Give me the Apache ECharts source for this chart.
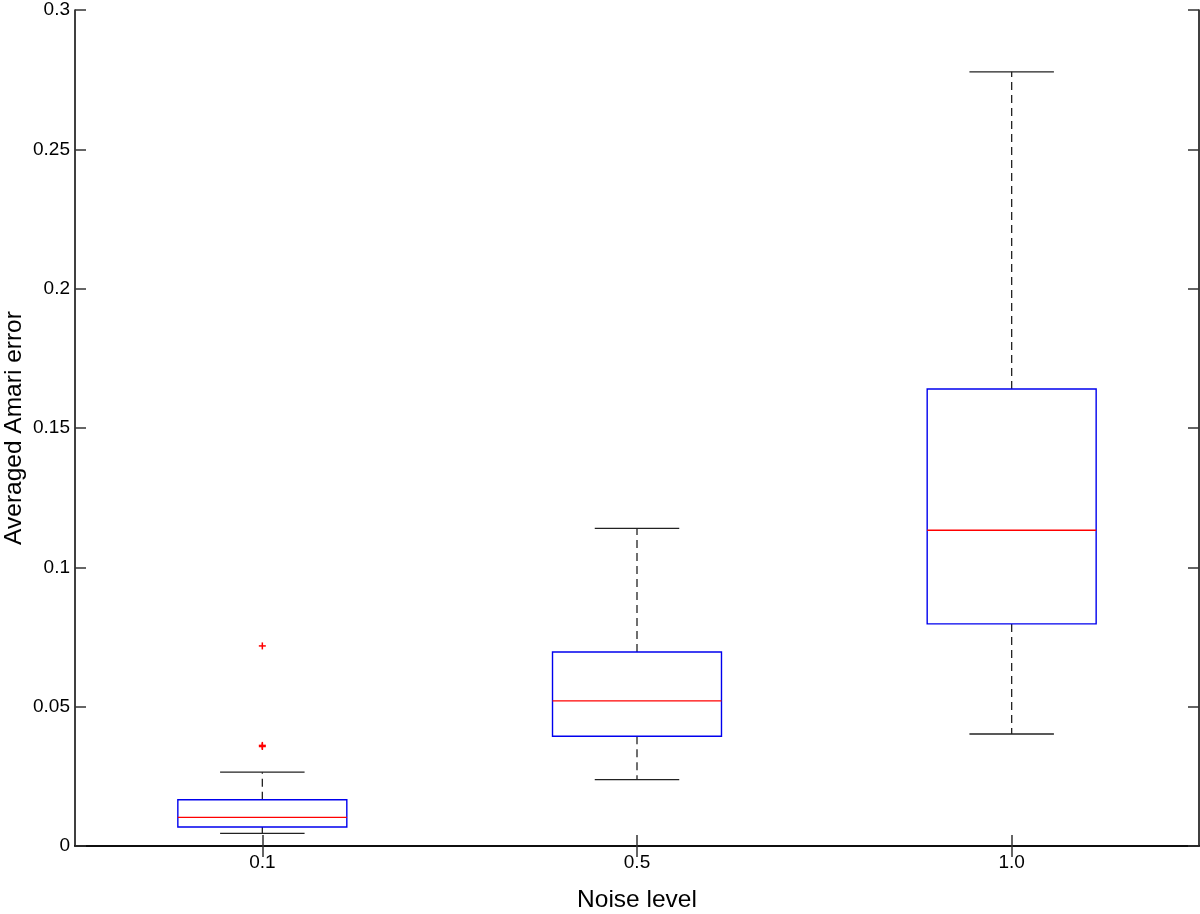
<!DOCTYPE html>
<html>
<head>
<meta charset="utf-8">
<script src="https://cdn.jsdelivr.net/npm/echarts@6/dist/echarts.min.js"></script>
<style>html,body{margin:0;padding:0;background:#fff;}#c{width:1200px;height:914px;}</style>
</head>
<body>
<div id="c"></div>
<script>
const categories = ['0.1', '0.5', '1.0'];
const lowerWhisker = [0.0045, 0.0238, 0.0402];
const q1 = [0.0068, 0.0394, 0.0797];
const median = [0.0103, 0.0521, 0.1133];
const q3 = [0.0166, 0.0696, 0.1640];
const upperWhisker = [0.0265, 0.1140, 0.2778];
const outliers = [[0, 0.0718], [0, 0.0357], [0, 0.0361]];
const yTicks = [0, 0.05, 0.1, 0.15, 0.2, 0.25, 0.3];

const boxData = categories.map((c, i) => [i, lowerWhisker[i], q1[i], median[i], q3[i], upperWhisker[i]]);

const FONT = 'Liberation Sans, Arial, Helvetica, sans-serif';

function renderBox(params, api) {
  const i = api.value(0);
  const band = api.size([1, 0])[0];
  const boxW = band * 0.451;
  const capW = boxW / 2;
  const pLo = api.coord([i, api.value(1)]);
  const pQ1 = api.coord([i, api.value(2)]);
  const pMed = api.coord([i, api.value(3)]);
  const pQ3 = api.coord([i, api.value(4)]);
  const pHi = api.coord([i, api.value(5)]);
  const cx = pMed[0];
  const black = {stroke: '#222', lineWidth: 1.3};
  return {
    type: 'group',
    children: [
      {type: 'line', shape: {x1: cx, y1: pQ3[1], x2: cx, y2: pHi[1]}, style: {stroke: '#222', lineWidth: 1.3, lineDash: [8, 5]}},
      {type: 'line', shape: {x1: cx, y1: pQ1[1], x2: cx, y2: pLo[1]}, style: {stroke: '#222', lineWidth: 1.3, lineDash: [8, 5]}},
      {type: 'line', shape: {x1: cx - capW / 2, y1: pHi[1], x2: cx + capW / 2, y2: pHi[1]}, style: black},
      {type: 'line', shape: {x1: cx - capW / 2, y1: pLo[1], x2: cx + capW / 2, y2: pLo[1]}, style: black},
      {type: 'rect', shape: {x: cx - boxW / 2, y: pQ3[1], width: boxW, height: pQ1[1] - pQ3[1]}, style: {fill: 'none', stroke: '#0000ee', lineWidth: 1.4}},
      {type: 'line', shape: {x1: cx - boxW / 2, y1: pMed[1], x2: cx + boxW / 2, y2: pMed[1]}, style: {stroke: '#ff0000', lineWidth: 1.3}}
    ]
  };
}

function renderPlus(params, api) {
  const p = api.coord([api.value(0), api.value(1)]);
  const h = 3.5;
  const st = {stroke: '#ff0000', lineWidth: 1.5};
  return {
    type: 'group',
    children: [
      {type: 'line', shape: {x1: p[0] - h, y1: p[1], x2: p[0] + h, y2: p[1]}, style: st},
      {type: 'line', shape: {x1: p[0], y1: p[1] - h, x2: p[0], y2: p[1] + h}, style: st}
    ]
  };
}

const chart = echarts.init(document.getElementById('c'), null, {renderer: 'canvas'});
const axisLine = {show: true, lineStyle: {color: '#000', width: 1.5}};
const tick = {show: true, inside: true, length: 11, lineStyle: {color: '#333', width: 1.5}};
chart.setOption({
  animation: false,
  backgroundColor: '#fff',
  grid: {left: 75, right: 1, top: 10, bottom: 68, containLabel: false, outerBoundsMode: 'none'},
  xAxis: [
    {
      type: 'category', data: categories, position: 'bottom',
      axisLine: axisLine, axisTick: Object.assign({alignWithLabel: true}, tick),
      axisLabel: {color: '#000', fontSize: 19, fontFamily: FONT, margin: 7},
      name: 'Noise level', nameLocation: 'middle', nameGap: 42, nameMoveOverlap: false,
      nameTextStyle: {color: '#000', fontSize: 24.5, fontFamily: FONT},
      splitLine: {show: false}
    },
    {
      type: 'category', data: categories, position: 'top',
      axisLine: axisLine, axisTick: Object.assign({alignWithLabel: true}, tick),
      axisLabel: {show: false}, splitLine: {show: false}
    }
  ],
  yAxis: [
    {
      type: 'value', min: 0, max: 0.3, interval: 0.05, position: 'left',
      axisLine: axisLine, axisTick: tick,
      axisLabel: {color: '#000', fontSize: 19, fontFamily: FONT, margin: 5,
        formatter: v => { const t = yTicks.find(x => Math.abs(x - v) < 1e-9); return t === undefined ? '' : String(t); }},
      name: 'Averaged Amari error', nameLocation: 'middle', nameGap: 48, nameRotate: 90, nameMoveOverlap: false,
      nameTextStyle: {color: '#000', fontSize: 24.5, fontFamily: FONT},
      splitLine: {show: false}
    },
    {
      type: 'value', min: 0, max: 0.3, interval: 0.05, position: 'right',
      axisLine: axisLine, axisTick: tick,
      axisLabel: {show: false}, splitLine: {show: false}
    }
  ],
  series: [
    {type: 'custom', renderItem: renderBox, data: boxData, xAxisIndex: 0, yAxisIndex: 0, encode: {x: 0, y: [1, 2, 3, 4, 5]}, z: 5},
    {type: 'custom', renderItem: renderPlus, data: outliers, xAxisIndex: 0, yAxisIndex: 0, encode: {x: 0, y: 1}, z: 6}
  ]
});
</script>
</body>
</html>
